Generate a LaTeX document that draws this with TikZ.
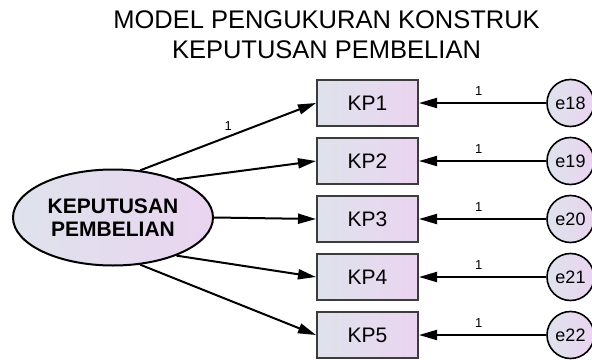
\documentclass[tikz,border=0pt]{standalone}
\usepackage{fontspec}
\setmainfont{Liberation Sans}
\usetikzlibrary{arrows.meta,shapes.geometric}
\definecolor{shadeL}{HTML}{DEE3EC}
\definecolor{shadeR}{HTML}{EAD4F0}
\definecolor{edgegray}{HTML}{3C3C3C}
\begin{document}
\begin{tikzpicture}[x=1pt,y=-1pt,
  obs/.style={draw=edgegray, line width=2pt, rectangle, minimum width=101pt, minimum height=46pt, inner sep=0pt, left color=shadeL, right color=shadeR, font=\fontsize{21}{25}\selectfont},
  lat/.style={draw=black, line width=2pt, ellipse, minimum width=200pt, minimum height=96pt, inner sep=0pt, left color=shadeL, right color=shadeR, align=center, font=\bfseries\fontsize{21}{23.5}\selectfont},
  err/.style={draw=black, line width=1.6pt, circle, minimum size=47pt, inner sep=0pt, left color=shadeL, right color=shadeR, font=\fontsize{18}{20}\selectfont},
  reg/.style={line width=2pt, -{Triangle[length=18pt,width=10pt]}},
  lab/.style={font=\fontsize{13}{15}\selectfont, inner sep=1pt},
  ttl/.style={anchor=base, inner sep=0pt, font=\fontsize{25.5}{30}\selectfont}
]
\useasboundingbox (0,0) rectangle (592,359);
\node[ttl] (t1) at (326.5,28) {MODEL PENGUKURAN KONSTRUK};
\node[ttl] (t2) at (326.5,58) {KEPUTUSAN PEMBELIAN};

\node[lat] (kpb) at (113,217.5) {KEPUTUSAN\\PEMBELIAN};

\node[obs] (kp1) at (367.5,103) {KP1};
\node[obs] (kp2) at (367.5,161) {KP2};
\node[obs] (kp3) at (367.5,219) {KP3};
\node[obs] (kp4) at (367.5,277) {KP4};
\node[obs] (kp5) at (367.5,335) {KP5};

\node[err] (e18) at (570.5,103) {e18};
\node[err] (e19) at (570.5,161) {e19};
\node[err] (e20) at (570.5,219) {e20};
\node[err] (e21) at (570.5,277) {e21};
\node[err] (e22) at (570.5,335) {e22};

\draw[reg] (kpb.60) -- node[lab, midway, above=4pt] {1} (kp1.west);
\draw[reg] (kpb.31) -- (kp2.west);
\draw[reg] (kpb.east) -- (kp3.west);
\draw[reg] (kpb.-31) -- (kp4.west);
\draw[reg] (kpb.-60) -- (kp5.west);

\draw[reg] (e18) -- node[lab, pos=0.53, above=6pt] {1} (kp1);
\draw[reg] (e19) -- node[lab, pos=0.53, above=6pt] {1} (kp2);
\draw[reg] (e20) -- node[lab, pos=0.53, above=6pt] {1} (kp3);
\draw[reg] (e21) -- node[lab, pos=0.53, above=6pt] {1} (kp4);
\draw[reg] (e22) -- node[lab, pos=0.53, above=6pt] {1} (kp5);
\end{tikzpicture}
\end{document}
